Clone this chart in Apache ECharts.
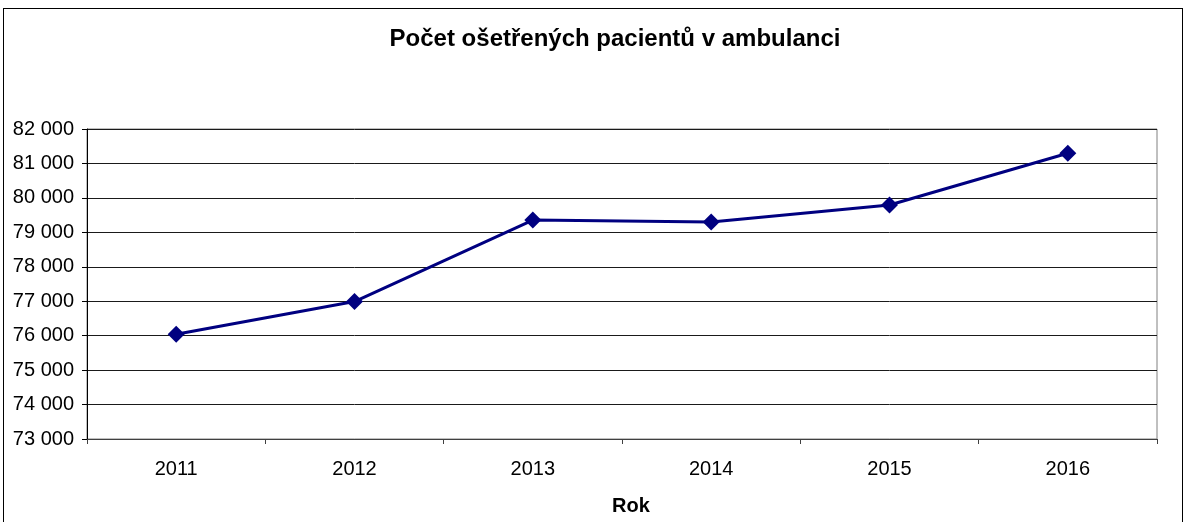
<!DOCTYPE html>
<html>
<head>
<meta charset="utf-8">
<script src="https://cdn.jsdelivr.net/npm/echarts@6/dist/echarts.min.js"></script>
<style>
html,body{margin:0;padding:0;background:#fff;overflow:hidden;}
#wrap{position:relative;width:1187px;height:522px;overflow:hidden;}
#chart{position:absolute;left:0;top:0;width:1187px;height:522px;}
#border{position:absolute;left:3px;top:8px;width:1178px;height:530px;border:1px solid #000;pointer-events:none;}
</style>
</head>
<body>
<div id="wrap"><div id="chart"></div><div id="border"></div></div>
<script>
const titleText = 'Počet ošetřených pacientů v ambulanci';
const xAxisName = 'Rok';
const categories = ['2011', '2012', '2013', '2014', '2015', '2016'];
const patients = [76040, 76990, 79355, 79300, 79795, 81295];
const yMin = 73000, yMax = 82000, yStep = 1000;

const chart = echarts.init(document.getElementById('chart'), null, {renderer: 'canvas'});
const font = 'Liberation Sans, Arial, sans-serif';
chart.setOption({
  animation: false,
  backgroundColor: '#fff',
  title: {
    text: titleText, left: 610, top: 22, textAlign: 'center',
    textStyle: {fontFamily: font, fontSize: 24, fontWeight: 'bold', color: '#000'}
  },
  grid: {left: 87, right: 30, top: 129, bottom: 83, containLabel: false, outerBoundsMode: 'none',
    show: true, borderColor: '#808080', borderWidth: 1, backgroundColor: 'transparent'},
  xAxis: {
    type: 'category', data: categories, boundaryGap: true,
    name: xAxisName, nameLocation: 'middle', nameGap: 57,
    nameTextStyle: {fontFamily: font, fontSize: 20, fontWeight: 'bold', color: '#000', padding: [0, 0, 0, 18]},
    axisLine: {lineStyle: {color: '#404040', width: 1}},
    axisTick: {show: true, length: 5, inside: false, alignWithLabel: false, lineStyle: {color: '#404040'}},
    axisLabel: {fontFamily: font, fontSize: 20, color: '#000', margin: 20},
    splitLine: {show: false}
  },
  yAxis: {
    type: 'value', min: yMin, max: yMax, interval: yStep,
    axisLine: {show: true, lineStyle: {color: '#000', width: 1}},
    axisTick: {show: true, length: 5, lineStyle: {color: '#000'}},
    axisLabel: {fontFamily: font, fontSize: 20, color: '#000', margin: 13,
      formatter: v => String(v).replace(/\B(?=(\d{3})+(?!\d))/g, ' ')},
    splitLine: {show: true, lineStyle: {color: '#1a1a1a', width: 1}}
  },
  series: [{
    type: 'line', data: patients,
    symbol: 'diamond', symbolSize: 17,
    lineStyle: {color: '#000080', width: 3},
    itemStyle: {color: '#000080'}
  }]
});
</script>
</body>
</html>
